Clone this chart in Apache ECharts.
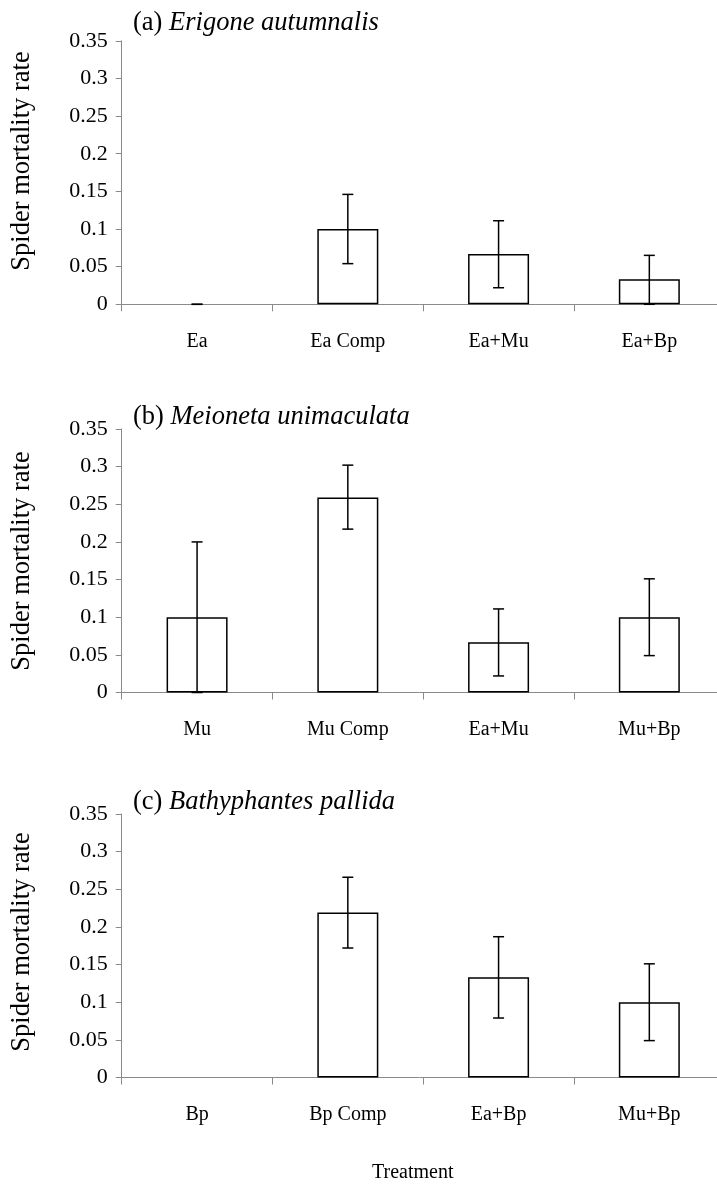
<!DOCTYPE html>
<html>
<head>
<meta charset="utf-8">
<script src="https://cdn.jsdelivr.net/npm/echarts@6/dist/echarts.min.js"></script>
<style>
  html, body { margin: 0; padding: 0; background: #fff; }
  #chart { width: 717px; height: 1193px; }
</style>
</head>
<body>
<div id="chart"></div>
<script>
// panel (a) Erigone autumnalis
var catsA = ['Ea', 'Ea Comp', 'Ea+Mu', 'Ea+Bp']
var rateA = [0, 0.1, 0.0667, 0.0333]
var lowA = [0, 0.054, 0.022, 0]
var highA = [0, 0.146, 0.111, 0.065]

// panel (b) Meioneta unimaculata
var catsB = ['Mu', 'Mu Comp', 'Ea+Mu', 'Mu+Bp']
var rateB = [0.1, 0.259, 0.0667, 0.1]
var lowB = [0, 0.217, 0.022, 0.049]
var highB = [0.2, 0.302, 0.111, 0.151]

// panel (c) Bathyphantes pallida
var catsC = ['Bp', 'Bp Comp', 'Ea+Bp', 'Mu+Bp']
var rateC = [0, 0.219, 0.133, 0.1]
var lowC = [null, 0.172, 0.079, 0.049]
var highC = [null, 0.266, 0.187, 0.151]

var panels = [
  { tag: '(a) ', name: 'Erigone autumnalis', cats: catsA, rate: rateA, low: lowA, high: highA, top: 40.8, titleTop: 5, nameY: 161 },
  { tag: '(b) ', name: 'Meioneta unimaculata', cats: catsB, rate: rateB, low: lowB, high: highB, top: 429, titleTop: 399, nameY: 561 },
  { tag: '(c) ', name: 'Bathyphantes pallida', cats: catsC, rate: rateC, low: lowC, high: highC, top: 814, titleTop: 784, nameY: 942 }
]

var serif = 'Liberation Serif, Times New Roman, serif'
var axisGrey = '#8a8a8a'

function errorBar (params, api) {
  var lo = api.coord([api.value(0), api.value(1)])
  var hi = api.coord([api.value(0), api.value(2)])
  var half = 5.5
  var st = { stroke: '#000', lineWidth: 1.5 }
  return {
    type: 'group',
    children: [
      { type: 'line', shape: { x1: lo[0], y1: lo[1], x2: hi[0], y2: hi[1] }, style: st },
      { type: 'line', shape: { x1: hi[0] - half, y1: hi[1], x2: hi[0] + half, y2: hi[1] }, style: st },
      { type: 'line', shape: { x1: lo[0] - half, y1: lo[1], x2: lo[0] + half, y2: lo[1] }, style: st }
    ]
  }
}

var option = {
  animation: false,
  backgroundColor: '#fff',
  title: [],
  grid: [],
  xAxis: [],
  yAxis: [],
  series: [],
  graphic: [
    {
      type: 'text',
      left: 372,
      top: 1163,
      style: { text: 'Treatment', font: '20px ' + serif, fill: '#000' }
    }
  ]
}

panels.forEach(function (p, i) {
  option.title.push({
    text: p.tag + '{i|' + p.name + '}',
    left: 128,
    top: p.titleTop,
    textStyle: {
      fontFamily: serif,
      fontSize: 26.5,
      fontWeight: 'normal',
      color: '#000',
      rich: { i: { fontFamily: serif, fontSize: 26.5, fontStyle: 'italic', color: '#000' } }
    }
  })
  // y axis title, drawn rotated
  option.graphic.push({
    type: 'text',
    x: 22,
    y: p.nameY,
    rotation: Math.PI / 2,
    style: {
      text: 'Spider mortality rate',
      font: '26.5px ' + serif,
      fill: '#000',
      align: 'center',
      verticalAlign: 'middle',
      textAlign: 'center',
      textVerticalAlign: 'middle'
    }
  })
  // plot runs a little past the right edge, as in the original
  option.grid.push({ left: 121.7, width: 603, top: p.top, height: 263.5, outerBoundsMode: 'none' })
  option.xAxis.push({
    type: 'category',
    gridIndex: i,
    data: p.cats,
    boundaryGap: true,
    axisLine: { lineStyle: { color: axisGrey, width: 1 } },
    axisTick: { show: true, length: 7, lineStyle: { color: axisGrey } },
    axisLabel: { color: '#000', fontFamily: serif, fontSize: 20, margin: 27 },
    splitLine: { show: false }
  })
  option.yAxis.push({
    type: 'value',
    gridIndex: i,
    min: 0,
    max: 0.35,
    interval: 0.05,
    axisLine: { show: true, lineStyle: { color: axisGrey, width: 1 } },
    axisTick: { show: true, length: 6, lineStyle: { color: axisGrey } },
    axisLabel: {
      color: '#000',
      fontFamily: serif,
      fontSize: 22,
      margin: 14,
      formatter: function (v) { return String(parseFloat(v.toFixed(2))) }
    },
    splitLine: { show: false }
  })
  option.series.push({
    type: 'bar',
    xAxisIndex: i,
    yAxisIndex: i,
    // zero bars leave no outline
    data: p.rate.map(function (v) {
      return v === 0 ? { value: v, itemStyle: { borderWidth: 0 } } : v
    }),
    barWidth: 61,
    itemStyle: { color: '#fff', borderColor: '#000', borderWidth: 1.5 }
  })
  var errData = []
  p.cats.forEach(function (c, k) {
    if (p.low[k] !== null) errData.push([k, p.low[k], p.high[k]])
  })
  option.series.push({
    type: 'custom',
    xAxisIndex: i,
    yAxisIndex: i,
    renderItem: errorBar,
    encode: { x: 0, y: [1, 2] },
    data: errData,
    z: 5
  })
})

var chart = echarts.init(document.getElementById('chart'))
chart.setOption(option)
</script>
</body>
</html>
